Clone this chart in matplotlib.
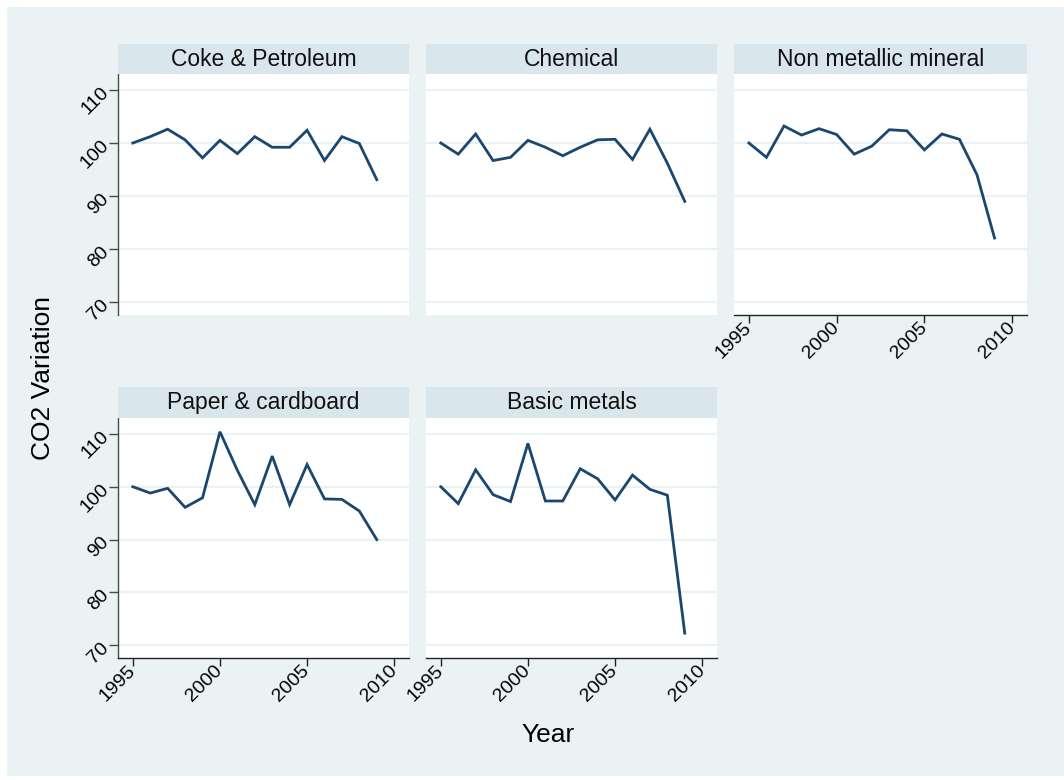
import matplotlib
matplotlib.use("Agg")
import matplotlib.pyplot as plt
from matplotlib.patches import Rectangle

plt.rcParams["font.family"] = ["Liberation Sans", "DejaVu Sans"]

years = list(range(1995, 2010))

coke_petroleum = [100.0, 101.2, 102.6, 100.6, 97.2, 100.5, 98.0, 101.2, 99.2, 99.2,
                  102.4, 96.7, 101.2, 99.9, 93.1]
chemical = [100.0, 97.9, 101.7, 96.7, 97.3, 100.5, 99.2, 97.6, 99.2, 100.6,
            100.7, 96.9, 102.6, 96.2, 89.0]
non_metallic = [100.0, 97.3, 103.2, 101.5, 102.7, 101.6, 97.9, 99.4, 102.5, 102.3,
                98.7, 101.7, 100.7, 94.0, 82.1]
paper_cardboard = [100.0, 98.8, 99.7, 96.1, 97.9, 110.4, 103.1, 96.6, 105.8, 96.6,
                   104.2, 97.7, 97.6, 95.4, 90.0]
basic_metals = [100.0, 96.8, 103.2, 98.5, 97.2, 108.2, 97.3, 97.3, 103.4, 101.5,
                97.5, 102.2, 99.5, 98.4, 72.3]

titles = ["Coke & Petroleum", "Chemical", "Non metallic mineral",
          "Paper & cardboard", "Basic metals"]
series = [coke_petroleum, chemical, non_metallic, paper_cardboard, basic_metals]

y_ticks = [70, 80, 90, 100, 110]
x_ticks = [1995, 2000, 2005, 2010]

W, H = 1064, 780
BG = "#eaf2f3"
STRIP = "#d9e6eb"
LINE = "#1a476f"
AXIS = "#4a4a4a"

fig = plt.figure(figsize=(W / 100, H / 100), dpi=100, facecolor="white")
fig.patches.append(Rectangle((7 / W, 1 - 776 / H), (1064 - 7) / W, (776 - 7) / H,
                             transform=fig.transFigure, facecolor=BG,
                             edgecolor="none", zorder=-10))


def frac(x0, y0, x1, y1):
    return [x0 / W, 1 - y1 / H, (x1 - x0) / W, (y1 - y0) / H]


cols = [(118, 409), (426, 717), (734, 1027)]
rows = [((44, 74), (74, 315)), ((387, 418), (418, 658))]
layout = [(0, 0), (0, 1), (0, 2), (1, 0), (1, 1)]
show_x = [False, False, True, True, True]

for idx, (r, c) in enumerate(layout):
    (sy0, sy1), (py0, py1) = rows[r]
    x0, x1 = cols[c]

    ax = fig.add_axes(frac(x0, py0, x1, py1))
    ax.set_facecolor("white")
    ax.set_xlim(1994.15, 2010.85)
    ax.set_ylim(67.6, 113.0)
    for yv in y_ticks:
        ax.axhline(yv, color=BG, lw=1.6, zorder=1)
    ax.plot(years, series[idx], color=LINE, lw=2.0, zorder=3,
            solid_joinstyle="miter")

    for s in ax.spines.values():
        s.set_visible(False)

    ax.set_yticks(y_ticks)
    ax.set_xticks(x_ticks)
    if c == 0:
        ax.spines["left"].set_visible(True)
        ax.spines["left"].set_color(AXIS)
        ax.spines["left"].set_linewidth(1.0)
        ax.tick_params(axis="y", direction="out", length=6.5, width=1.0,
                       color=AXIS, labelsize=14, pad=2)
        for lab in ax.get_yticklabels():
            lab.set_rotation(45)
            lab.set_rotation_mode("anchor")
            lab.set_ha("right")
            lab.set_va("center")
    else:
        ax.tick_params(axis="y", left=False, labelleft=False)

    if show_x[idx]:
        ax.spines["bottom"].set_visible(True)
        ax.spines["bottom"].set_color("#222222")
        ax.spines["bottom"].set_linewidth(1.0)
        ax.tick_params(axis="x", direction="out", length=5.5, width=1.0,
                       color="#222222", labelsize=14, pad=2)
        ax.set_xticklabels([str(v) for v in x_ticks])
        for lab in ax.get_xticklabels():
            lab.set_rotation(45)
            lab.set_rotation_mode("anchor")
            lab.set_ha("right")
            lab.set_va("center")
    else:
        ax.tick_params(axis="x", bottom=False, labelbottom=False)

    sax = fig.add_axes(frac(x0, sy0, x1, sy1))
    sax.set_facecolor(STRIP)
    sax.set_xticks([])
    sax.set_yticks([])
    for s in sax.spines.values():
        s.set_visible(False)
    sax.text(0.5, 0.5, titles[idx], ha="center", va="center",
             fontsize=16.5, color="#111111", transform=sax.transAxes)

fig.text(548 / W, 1 - 735 / H, "Year", ha="center", va="center", fontsize=19)
fig.text(43 / W, 1 - 378 / H, "CO2 Variation", ha="center", va="center",
         rotation=90, fontsize=19)

fig.savefig("out.png", dpi=100, facecolor="white")
